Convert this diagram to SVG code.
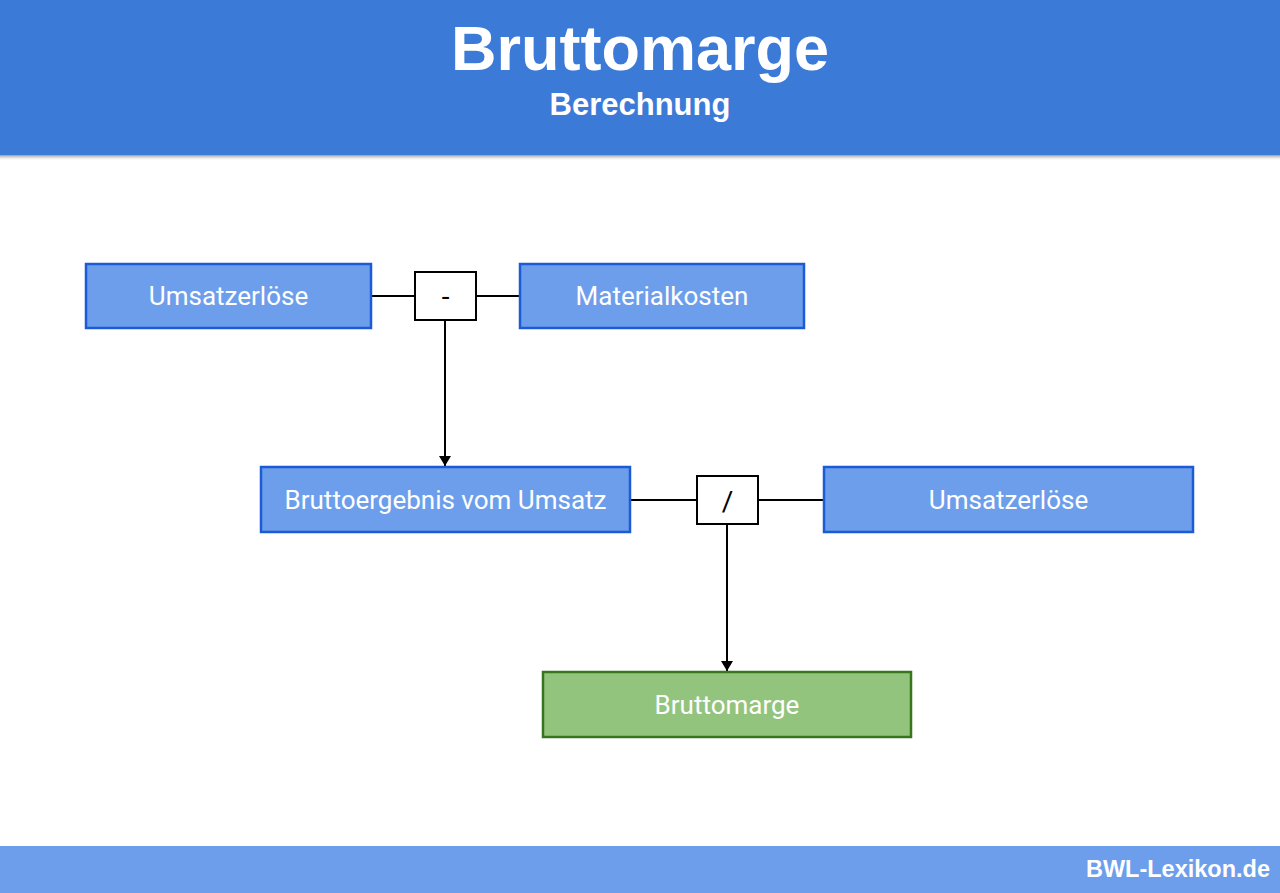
<svg xmlns="http://www.w3.org/2000/svg" width="1280" height="893" viewBox="0 0 1280 893">
<defs>
<style>
.node{fill:#6d9eeb;stroke:#1c5bd6;stroke-width:2.5}
.green{fill:#93c47d;stroke:#38761d;stroke-width:2.5}
.op{fill:#ffffff;stroke:#000000;stroke-width:2}
.lbl{font-family:Roboto,"Liberation Sans",sans-serif;font-size:26px;fill:#ffffff;text-anchor:middle}
.opt{font-family:Roboto,"Liberation Sans",sans-serif;font-size:28px;fill:#000000;text-anchor:middle}
.conn{stroke:#000000;stroke-width:2;fill:none}
</style>
<marker id="arr" viewBox="0 0 10 12" refX="10" refY="6" markerWidth="10" markerHeight="12" markerUnits="userSpaceOnUse" orient="auto">
<path d="M0,0 L10,6 L0,12 z" fill="#000000"/>
</marker>
<linearGradient id="sh" x1="0" y1="0" x2="0" y2="1">
<stop offset="0" stop-color="#9a9a9a"/>
<stop offset="1" stop-color="#ffffff" stop-opacity="0"/>
</linearGradient>
</defs>
<rect width="1280" height="893" fill="#ffffff"/>
<g id="header">
<rect x="0" y="155" width="1280" height="6" fill="url(#sh)"/>
<rect x="0" y="0" width="1280" height="155" fill="#3c7ad8"/>
<text x="640" y="70" font-family="Liberation Sans,Arial,sans-serif" font-weight="bold" font-size="63" fill="#ffffff" text-anchor="middle">Bruttomarge</text>
<text x="640" y="115" font-family="Liberation Sans,Arial,sans-serif" font-weight="bold" font-size="31" fill="#ffffff" text-anchor="middle">Berechnung</text>
</g>
<g id="connectors">
<line class="conn" x1="371" y1="296" x2="415" y2="296"/>
<line class="conn" x1="476" y1="296" x2="520" y2="296"/>
<line class="conn" x1="445" y1="320" x2="445" y2="466" marker-end="url(#arr)"/>
<line class="conn" x1="630" y1="500" x2="697" y2="500"/>
<line class="conn" x1="758" y1="500" x2="824" y2="500"/>
<line class="conn" x1="727" y1="524" x2="727" y2="671" marker-end="url(#arr)"/>
</g>
<g id="n1"><rect class="node" x="86" y="264" width="285" height="64"/><text class="lbl" x="228.5" y="305">Umsatzerlöse</text></g>
<g id="op1"><rect class="op" x="415" y="272" width="61" height="48"/><text class="opt" x="445.5" y="306">-</text></g>
<g id="n2"><rect class="node" x="520" y="264" width="284" height="64"/><text class="lbl" x="662" y="305">Materialkosten</text></g>
<g id="n3"><rect class="node" x="261" y="467" width="369" height="65"/><text class="lbl" x="445.5" y="509">Bruttoergebnis vom Umsatz</text></g>
<g id="op2"><rect class="op" x="697" y="476" width="61" height="48"/><text class="opt" x="727.5" y="511">/</text></g>
<g id="n4"><rect class="node" x="824" y="467" width="369" height="65"/><text class="lbl" x="1008.5" y="509">Umsatzerlöse</text></g>
<g id="n5"><rect class="green" x="543" y="672" width="368" height="65"/><text class="lbl" x="727" y="714">Bruttomarge</text></g>
<g id="footer">
<rect x="0" y="846" width="1280" height="47" fill="#6d9eeb"/>
<text x="1270" y="877" font-family="Liberation Sans,Arial,sans-serif" font-weight="bold" font-size="23.5" fill="#ffffff" text-anchor="end">BWL-Lexikon.de</text>
</g>
</svg>
